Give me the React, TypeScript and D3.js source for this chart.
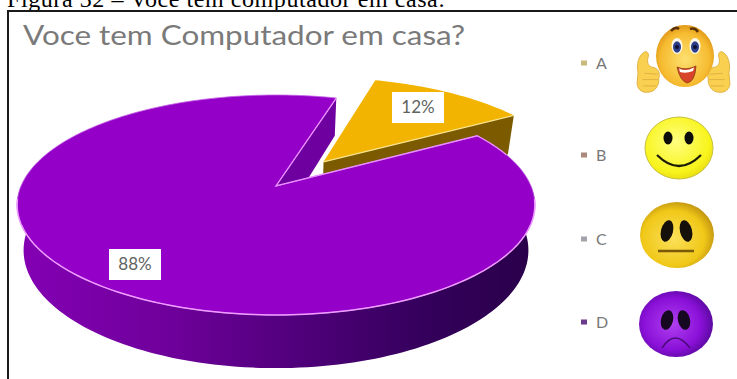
import React from "react";
import * as d3 from "d3";

const caption = "Figura 32 – Você tem computador em casa:";
const chartTitle = "Voce tem Computador em casa?";
const categories = ["A", "B", "C", "D"];
const shares = [12, 0, 0, 88];
const legendMarkerColors = ["#c9ba7c", "#a98a7c", "#a3a3aa", "#6b3a8c"];
const legendRows = [63, 155, 239, 322];

const W = 737;
const H = 379;
const rad = (deg: number) => (deg * Math.PI) / 180;

// Perspective view of a unit-radius pie lying flat: Y runs away from the viewer.
const originX = 276;
const originY = 186;
const radiusX = 255;
const radiusY = 106.7;
const perspective = 0.1725;
const thickness = 44;
const bottomShrink = 0.975;

type Pt = [number, number];

function project(X: number, Y: number, drop = 0): Pt {
  const w = 1 + perspective * Y;
  const shrink = 1 - (1 - bottomShrink) * (drop / thickness);
  return [originX + (radiusX * X * shrink) / w, originY + (-radiusY * Y + drop) / w];
}

function rimPoint(angle: number, explode: number, dir: number, drop = 0): Pt {
  return project(
    Math.sin(angle) + explode * Math.sin(dir),
    Math.cos(angle) + explode * Math.cos(dir),
    drop
  );
}

function hub(explode: number, dir: number, drop = 0): Pt {
  return project(explode * Math.sin(dir), explode * Math.cos(dir), drop);
}

const arcs = d3
  .pie<number>()
  .sort(null)
  .value((d) => d)
  .startAngle(rad(16))
  .endAngle(rad(376))(shares);

const sliceA = arcs[0];
const sliceD = arcs[3];
const explodeDir = rad(39.5);
const explodeA = 0.305;

const angles = (a: number, b: number, n = 120) => d3.range(n + 1).map((i) => a + ((b - a) * i) / n);
const path = d3.line<Pt>();
const closed = (pts: Pt[]) => path(pts) + "Z";

// Yellow slice, pulled out from the centre
const aRim = angles(sliceA.startAngle, sliceA.endAngle, 40).map((t) => rimPoint(t, explodeA, explodeDir));
const aTop = closed([hub(explodeA, explodeDir), ...aRim]);
const aWall = closed([
  hub(explodeA, explodeDir),
  rimPoint(sliceA.endAngle, explodeA, explodeDir),
  rimPoint(sliceA.endAngle, explodeA, explodeDir, thickness),
  hub(explodeA, explodeDir, thickness),
]);
const aEdge = path([hub(explodeA, explodeDir), rimPoint(sliceA.endAngle, explodeA, explodeDir)])!;

// Purple slice
const dRim = angles(sliceD.startAngle, sliceD.endAngle, 240).map((t) => rimPoint(t, 0, 0));
const dTop = closed([hub(0, 0), ...dRim]);
const dFace = closed([
  hub(0, 0),
  rimPoint(sliceD.endAngle, 0, 0),
  rimPoint(sliceD.endAngle, 0, 0, thickness),
  hub(0, 0, thickness),
]);
const front = angles(rad(90), rad(270), 120);
const dOuter = closed([
  ...front.map((t) => rimPoint(t, 0, 0)),
  ...front.slice().reverse().map((t) => rimPoint(t, 0, 0, thickness)),
]);
const dFrontLine = path(angles(rad(97), rad(263), 120).map((t) => rimPoint(t, 0, 0)))!;
const dOpenEdge = path([
  ...angles(rad(72), sliceD.startAngle, 12).map((t) => rimPoint(t, 0, 0)),
  hub(0, 0),
  rimPoint(sliceD.endAngle, 0, 0),
])!;

const smile = (cx: number, cy: number, w: number, depth: number) =>
  `M${cx - w},${cy} Q${cx},${cy + depth} ${cx + w},${cy}`;

function Thumb({ x, y, flip }: { x: number; y: number; flip?: boolean }) {
  return (
    <g transform={`translate(${x},${y}) scale(${flip ? -0.9 : 0.9},0.9)`}>
      <path
        d="M-10,-4 C-12,-14 -9,-22 -4,-26 C0,-29 3,-25 1,-20 C0,-15 1,-12 5,-10 C13,-9 15,-3 13,3 C14,10 9,18 1,18 C-6,19 -11,14 -11,8 Z"
        fill="#f9d050"
        stroke="#dcae40"
        strokeWidth={1}
      />
      <path d="M-3,-3 L12,-2 M-5,4 L12,4 M-4,11 L10,11" stroke="#dcae40" strokeWidth={1} fill="none" />
    </g>
  );
}

function Faces() {
  return (
    <g>
      <Thumb x={647} y={76} />
      <Thumb x={720} y={76} flip />
      <ellipse cx={685} cy={56} rx={29} ry={31} fill="url(#faceHappy)" />
      <path d="M671,31 q4,-5 8,-2 M690,29 q5,-2 8,3" stroke="#5c3208" strokeWidth={2.5} fill="none" />
      <ellipse cx={677} cy={46} rx={5.5} ry={8} fill="#fdf7e8" />
      <ellipse cx={695} cy={46} rx={5.5} ry={8} fill="#fdf7e8" />
      <ellipse cx={677} cy={47} rx={4} ry={5.8} fill="#2c3f88" />
      <ellipse cx={695} cy={47} rx={4} ry={5.8} fill="#2c3f88" />
      <circle cx={677} cy={47} r={2} fill="#0d1030" />
      <circle cx={695} cy={47} r={2} fill="#0d1030" />
      <path d="M677,67 Q686,71 696,66 Q695,82 687,83 Q680,81 677,67 Z" fill="#d8442a" stroke="#8a4010" strokeWidth={0.8} />
      <path d="M679,68.5 Q686,72 694,67.5 L693,71 Q686,74 680,72 Z" fill="#ffffff" />

      <ellipse cx={679} cy={148} rx={34} ry={31} fill="url(#faceSmile)" stroke="#c8c040" strokeWidth={1} />
      <ellipse cx={668} cy={138} rx={4.5} ry={6.5} fill="#0c0c08" />
      <ellipse cx={689} cy={138} rx={4.5} ry={6.5} fill="#0c0c08" />
      <path d={smile(679, 155, 22, 22)} stroke="#1c1c08" strokeWidth={2.2} fill="none" />

      <ellipse cx={677} cy={235} rx={37} ry={33} fill="url(#faceFlat)" />
      <ellipse cx={667} cy={231} rx={6} ry={11} transform="rotate(14 667 231)" fill="#15100a" />
      <ellipse cx={686} cy={231} rx={6} ry={11} transform="rotate(-14 686 231)" fill="#15100a" />
      <path d="M658,251 L694,251" stroke="#7a5a08" strokeWidth={2.4} />

      <ellipse cx={676} cy={324} rx={37} ry={33} fill="url(#faceSad)" />
      <ellipse cx={667} cy={320} rx={6} ry={10} transform="rotate(14 667 320)" fill="#160820" />
      <ellipse cx={684} cy={320} rx={6} ry={10} transform="rotate(-14 684 320)" fill="#160820" />
      <path d="M662,348 Q675,328 690,348" stroke="#4a0a78" strokeWidth={1.5} fill="none" />
    </g>
  );
}

function ValueTag({ value, x, y }: { value: number; x: number; y: number }) {
  return (
    <g>
      <rect x={x} y={y} width={52} height={31} fill="#ffffff" />
      <text x={x + 26} y={y + 21} textAnchor="middle" fontFamily="Lato, sans-serif" fontSize={17} fill="#5f6462">
        {value}%
      </text>
    </g>
  );
}

export default function App() {
  return (
    <svg width={W} height={H} viewBox={`0 0 ${W} ${H}`} style={{ position: "absolute", left: 0, top: 0 }}>
      <defs>
        <linearGradient id="wallD" gradientUnits="userSpaceOnUse" x1={16} x2={534} y1={0} y2={0}>
          <stop offset="0" stopColor="#8400b4" />
          <stop offset="0.3" stopColor="#6e009a" />
          <stop offset="0.55" stopColor="#4f007a" />
          <stop offset="0.8" stopColor="#33005a" />
          <stop offset="1" stopColor="#2a004a" />
        </linearGradient>
        <radialGradient id="faceHappy" cx="0.5" cy="0.55" r="0.6">
          <stop offset="0" stopColor="#fde070" />
          <stop offset="0.7" stopColor="#f6bb30" />
          <stop offset="1" stopColor="#d98a10" />
        </radialGradient>
        <radialGradient id="faceSmile" cx="0.45" cy="0.4" r="0.65">
          <stop offset="0" stopColor="#ffff80" />
          <stop offset="0.75" stopColor="#f8f41c" />
          <stop offset="1" stopColor="#e6d810" />
        </radialGradient>
        <radialGradient id="faceFlat" cx="0.45" cy="0.55" r="0.6">
          <stop offset="0" stopColor="#fbe05a" />
          <stop offset="0.7" stopColor="#f0c818" />
          <stop offset="1" stopColor="#b98c10" />
        </radialGradient>
        <radialGradient id="faceSad" cx="0.45" cy="0.5" r="0.6">
          <stop offset="0" stopColor="#b040f0" />
          <stop offset="0.65" stopColor="#8a10d8" />
          <stop offset="1" stopColor="#4e0890" />
        </radialGradient>
      </defs>

      <rect width={W} height={H} fill="#ffffff" />
      <text x={7} y={7} fontFamily="'Liberation Serif', serif" fontSize={24} fill="#000" textLength={438} lengthAdjust="spacing">
        {caption}
      </text>
      <path d={`M8,${H} V11 H${W}`} fill="none" stroke="#1a1a1a" strokeWidth={2} />

      <text x={23} y={45} fontFamily="Lato, sans-serif" fontSize={27} fill="#7a7a7a" textLength={442} lengthAdjust="spacingAndGlyphs">
        {chartTitle}
      </text>

      {/* pie, back to front */}
      <path d={aWall} fill="#7b5a00" />
      <path d={aTop} fill="#f2b400" />
      <path d={aEdge} stroke="#f9e48c" strokeWidth={1.2} fill="none" />
      <path d={dFace} fill="#6f00a0" />
      <path d={dOuter} fill="url(#wallD)" />
      <path d={dTop} fill="#9500c8" stroke="#c668e8" strokeWidth={0.8} />
      <path d={dFrontLine} stroke="#ee9cff" strokeWidth={1.5} fill="none" />
      <path d={dOpenEdge} stroke="#ea90ff" strokeWidth={1.3} fill="none" />

      <ValueTag value={shares[0]} x={392} y={92} />
      <ValueTag value={shares[3]} x={109} y={249} />

      {categories.map((c, i) => (
        <g key={c}>
          <rect x={581} y={legendRows[i] - 2.5} width={6} height={5} fill={legendMarkerColors[i]} />
          <text x={596} y={legendRows[i] + 6} fontFamily="Lato, sans-serif" fontSize={16} fill="#787878">
            {c}
          </text>
        </g>
      ))}

      <Faces />
    </svg>
  );
}
